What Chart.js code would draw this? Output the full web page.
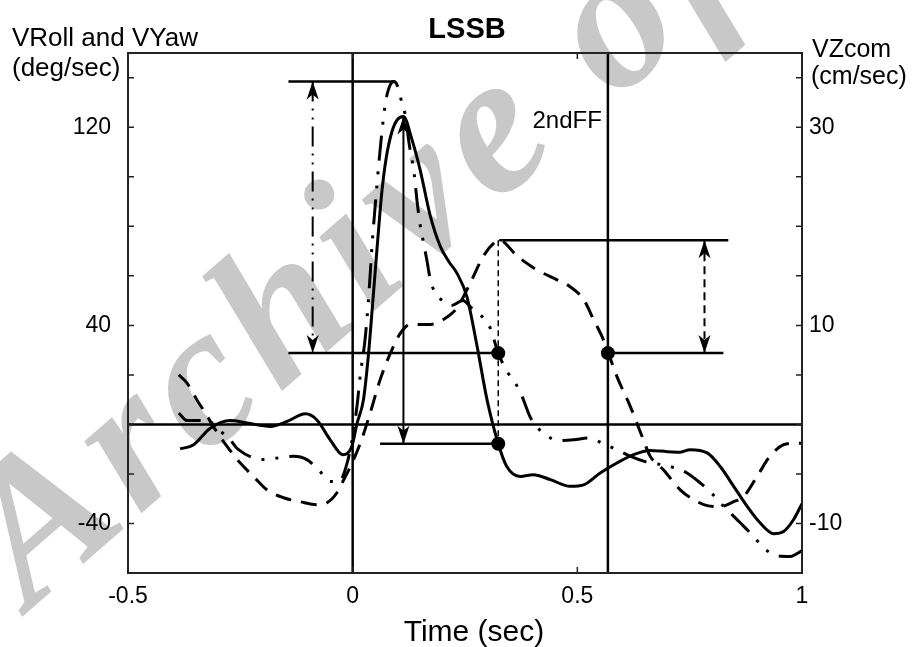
<!DOCTYPE html>
<html>
<head>
<meta charset="utf-8">
<script src="https://cdn.jsdelivr.net/npm/chart.js@4.4.0/dist/chart.umd.min.js"></script>
<style>
  html, body { margin: 0; padding: 0; background: #fff; }
  canvas { display: block; }
</style>
</head>
<body>
<canvas id="lssbChart" width="915" height="647"></canvas>
<script>
// VRoll (solid), deg/sec
const rollTime = [-0.384,-0.354,-0.317,-0.272,-0.235,-0.183,-0.146,-0.105,-0.08,-0.05,-0.022,-0.002,0.01,0.024,0.035,0.045,0.056,0.065,0.075,0.087,0.099,0.113,0.132,0.15,0.173,0.195,0.215,0.232,0.254,0.277,0.299,0.324,0.343,0.373,0.402,0.44,0.484,0.514,0.551,0.588,0.625,0.662,0.70,0.729,0.751,0.789,0.818,0.848,0.878,0.907,0.937,0.959,0.981,1.0];
const rollRate = [-9.9,-8.2,-1.5,1.6,0.6,-0.8,1.2,4.3,1.9,-6.2,-12.2,-8.9,0.6,10,28,50,75,94,108,118,123,124.4,115,102.9,84,71.9,65.5,61.1,51.7,31.5,10,-7.8,-17,-21,-20.3,-22.3,-25,-24.4,-19.6,-15.6,-12.2,-10.5,-11,-11.2,-10.2,-11.5,-17,-25,-33.1,-39.8,-44.1,-43.2,-38.5,-32];

// VYaw (dash-dot-dot), deg/sec
const yawTime = [-0.387,-0.369,-0.324,-0.3,-0.276,-0.254,-0.198,-0.165,-0.132,-0.102,-0.075,-0.05,-0.03,-0.013,0.0,0.01,0.017,0.028,0.037,0.043,0.05,0.058,0.065,0.073,0.082,0.092,0.099,0.108,0.117,0.126,0.137,0.144,0.149,0.157,0.165,0.173,0.184,0.2,0.22,0.245,0.265,0.284,0.306,0.324,0.345,0.362,0.377,0.395,0.41,0.429,0.458,0.492,0.525,0.56,0.588,0.62,0.651,0.707,0.744,0.774,0.8,0.826,0.863,0.892,0.915,0.944,0.974,1.0];
const yawRate = [4.6,1.6,1.6,-2,-5.5,-10.2,-14.2,-13.5,-12.9,-14.2,-18.5,-23,-23,-16,-5,8,20,35,55,72,88,105,118,130,136.5,138.5,137,131,125,113,101,89,82,74,66.5,58.4,53,50,48,50,47,44.3,39,28.8,21,16.7,11.3,3,-1,-4.2,-6.5,-6.2,-5.5,-8,-10.2,-13,-15,-17,-19.6,-23.7,-28,-33.1,-39.8,-45.2,-49.9,-53,-53.3,-51];

// VZcom (dashed), cm/sec
const comTime = [-0.387,-0.369,-0.347,-0.328,-0.306,-0.28,-0.25,-0.221,-0.191,-0.154,-0.117,-0.08,-0.057,-0.035,-0.02,-0.005,0.017,0.039,0.061,0.084,0.106,0.128,0.173,0.202,0.232,0.262,0.291,0.314,0.327,0.366,0.41,0.455,0.484,0.514,0.536,0.558,0.569,0.588,0.618,0.644,0.662,0.692,0.729,0.759,0.789,0.818,0.848,0.87,0.9,0.929,0.959,0.981,1.0];
const comVel = [5.0,4.2,2.5,1.15,-0.5,-2.2,-3.9,-5.25,-6.6,-7.4,-7.8,-8.1,-7.9,-6.9,-5.6,-4.25,-1.9,1.15,4.5,7.2,9.2,10.1,10.1,10.6,11.75,14.3,17,18.3,18.6,17,15.6,14.6,13.9,12.6,10.6,8.55,7.2,4.85,1.8,-1.2,-3.2,-4.6,-6.6,-7.6,-8.2,-8.3,-7.8,-7.3,-5.25,-3.2,-2.05,-1.9,-1.9];

// axis ticks
const timeTicks = [-0.5, 0, 0.5, 1];
const leftTickLabels = [120, 40, -40];
const rightTickLabels = [30, 10, -10];

// event times and reference levels
const onsetTime = 0;
const secondFFTime = 0.568;
const markTime = 0.324;
const yawPeak = 138.5;
const rollPeak = 124.4;
const rollPeakTime = 0.113;
const levelAtMark = 28.8;   // deg/sec
const rollAtMark = -7.8;    // deg/sec
const comPeak = 18.6;       // cm/sec
const comAtFF = 7.2;        // cm/sec

const pairs = (xs, ys) => xs.map((x, i) => ({ x: x, y: ys[i] }));

function seg(points, extra) {
  return Object.assign({
    type: 'scatter', showLine: true, data: points,
    borderColor: '#000', borderWidth: 2.5, pointRadius: 0,
    fill: false, tension: 0, yAxisID: 'y'
  }, extra || {});
}

const watermark = {
  id: 'watermark',
  beforeDraw(chart) {
    const c = chart.ctx;
    c.save();
    c.translate(30, 610);
    c.rotate(-41 * Math.PI / 180);
    c.font = 'italic bold 200px "Liberation Serif", serif';
    c.letterSpacing = '10px';
    c.fillStyle = '#c8c8c8';
    c.fillText('Archive of SID', 0, 0);
    c.restore();
  }
};

const frame = {
  id: 'frame',
  afterDatasetsDraw(chart) {
    const c = chart.ctx;
    const a = chart.chartArea;
    const x = chart.scales.x, y = chart.scales.y;
    c.save();
    // arrow heads on shafts
    chart.data.datasets.forEach((ds, i) => {
      if (!ds.arrow) return;
      const pts = chart.getDatasetMeta(i).data;
      const p0 = pts[0], p1 = pts[pts.length - 1];
      head(c, p1.x, p1.y, p1.x - p0.x, p1.y - p0.y);
      head(c, p0.x, p0.y, p0.x - p1.x, p0.y - p1.y);
    });
    // box
    c.strokeStyle = '#222';
    c.lineWidth = 2;
    c.strokeRect(a.left, a.top, a.right - a.left, a.bottom - a.top);
    // inward ticks
    c.beginPath();
    for (let v = -40; v <= 140; v += 20) {
      const py = y.getPixelForValue(v);
      c.moveTo(a.left, py); c.lineTo(a.left + 6, py);
      c.moveTo(a.right, py); c.lineTo(a.right - 6, py);
    }
    timeTicks.forEach(t => {
      const px = x.getPixelForValue(t);
      c.moveTo(px, a.bottom); c.lineTo(px, a.bottom - 6);
      c.moveTo(px, a.top); c.lineTo(px, a.top + 6);
    });
    c.lineWidth = 1.5;
    c.stroke();
    c.restore();
  },
  afterDraw(chart) {
    const c = chart.ctx;
    const x = chart.scales.x, y = chart.scales.y;
    c.save();
    c.fillStyle = '#000';
    c.textBaseline = 'alphabetic';
    c.font = 'bold 29px "Liberation Sans", Arial, sans-serif';
    c.textAlign = 'center';
    c.fillText('LSSB', 467, 38);
    c.font = '30px "Liberation Sans", Arial, sans-serif';
    c.fillText('Time (sec)', 474, 641);
    c.textAlign = 'left';
    c.font = '26px "Liberation Sans", Arial, sans-serif';
    c.fillText('VRoll and VYaw', 12, 46);
    c.fillText('(deg/sec)', 12, 76);
    c.font = '25px "Liberation Sans", Arial, sans-serif';
    c.fillText('VZcom', 812, 57);
    c.fillText('(cm/sec)', 811, 84);
    c.textAlign = 'right';
    c.font = '24px "Liberation Sans", Arial, sans-serif';
    c.fillText('2ndFF', x.getPixelForValue(secondFFTime) - 6, y.getPixelForValue(120) + 1);
    c.restore();
  }
};

function head(c, tx, ty, dx, dy) {
  const len = Math.hypot(dx, dy) || 1;
  const ux = dx / len, uy = dy / len;
  const nx = -uy, ny = ux;
  const L = 18, W = 6, N = 5;
  c.beginPath();
  c.moveTo(tx, ty);
  c.lineTo(tx - ux * L + nx * W, ty - uy * L + ny * W);
  c.lineTo(tx - ux * (L - N), ty - uy * (L - N));
  c.lineTo(tx - ux * L - nx * W, ty - uy * L - ny * W);
  c.closePath();
  c.fillStyle = '#000';
  c.fill();
}

const yMin = -60, yMax = 150;

const datasets = [
  // curves
  { type: 'scatter', label: 'VRoll', showLine: true, data: pairs(rollTime, rollRate),
    borderColor: '#000', borderWidth: 3, pointRadius: 0, cubicInterpolationMode: 'monotone', yAxisID: 'y' },
  { type: 'scatter', label: 'VYaw', showLine: true, data: pairs(yawTime, yawRate),
    borderColor: '#000', borderWidth: 3, pointRadius: 0, cubicInterpolationMode: 'monotone',
    borderDash: [25, 11, 3, 11, 3, 11], yAxisID: 'y' },
  { type: 'scatter', label: 'VZcom', showLine: true, data: pairs(comTime, comVel),
    borderColor: '#000', borderWidth: 3, pointRadius: 0, cubicInterpolationMode: 'monotone',
    borderDash: [16, 10], yAxisID: 'y2' },
  // event lines
  seg([{ x: onsetTime, y: yMin }, { x: onsetTime, y: yMax }]),
  seg([{ x: secondFFTime, y: yMin }, { x: secondFFTime, y: yMax }]),
  seg([{ x: -0.5, y: 0 }, { x: 1, y: 0 }]),
  // reference levels
  seg([{ x: -0.143, y: yawPeak }, { x: 0.092, y: yawPeak }]),
  seg([{ x: -0.143, y: levelAtMark }, { x: markTime, y: levelAtMark }]),
  seg([{ x: 0.061, y: rollAtMark }, { x: markTime, y: rollAtMark }]),
  seg([{ x: 0.326, y: comPeak }, { x: 0.836, y: comPeak }], { yAxisID: 'y2' }),
  seg([{ x: secondFFTime, y: comAtFF }, { x: 0.825, y: comAtFF }], { yAxisID: 'y2' }),
  seg([{ x: markTime, y: comPeak }, { x: markTime, y: -7 / 4 }], { yAxisID: 'y2', borderWidth: 1.5, borderDash: [6, 4] }),
  // arrows
  seg([{ x: -0.089, y: yawPeak }, { x: -0.089, y: levelAtMark }], { arrow: true, borderWidth: 2, borderDash: [20, 7, 2, 7, 2, 7] }),
  seg([{ x: rollPeakTime, y: rollPeak }, { x: rollPeakTime, y: rollAtMark }], { arrow: true, borderWidth: 2 }),
  seg([{ x: 0.783, y: comPeak }, { x: 0.783, y: comAtFF }], { arrow: true, yAxisID: 'y2', borderWidth: 2, borderDash: [8, 5] }),
  // marked points
  { type: 'scatter', data: [{ x: markTime, y: levelAtMark }, { x: markTime, y: rollAtMark }],
    pointRadius: 7, pointBackgroundColor: '#000', pointBorderWidth: 0, yAxisID: 'y' },
  { type: 'scatter', data: [{ x: secondFFTime, y: comAtFF }],
    pointRadius: 7, pointBackgroundColor: '#000', pointBorderWidth: 0, yAxisID: 'y2' }
];

Chart.defaults.font.family = '"Liberation Sans", Arial, sans-serif';
Chart.defaults.color = '#000';

new Chart(document.getElementById('lssbChart').getContext('2d'), {
  type: 'scatter',
  data: { datasets: datasets },
  options: {
    responsive: false,
    animation: false,
    events: [],
    layout: { padding: { top: 53, left: 0, right: 0, bottom: 0 } },
    plugins: { legend: { display: false }, tooltip: { enabled: false } },
    scales: {
      x: {
        type: 'linear', position: 'bottom', min: -0.5, max: 1,
        grid: { display: false, drawTicks: false }, border: { display: false },
        afterFit: s => { s.height = 74; },
        ticks: { stepSize: 0.5, padding: 10, font: { size: 23 }, autoSkip: false,
          callback: v => timeTicks.includes(v) ? String(v) : '' }
      },
      y: {
        type: 'linear', position: 'left', min: yMin, max: yMax,
        grid: { display: false, drawTicks: false }, border: { display: false },
        afterFit: s => { s.width = 128; },
        ticks: { stepSize: 20, padding: 17, font: { size: 23 }, autoSkip: false,
          callback: v => leftTickLabels.includes(v) ? String(v) : '' }
      },
      y2: {
        type: 'linear', position: 'right', min: yMin / 4, max: yMax / 4,
        grid: { display: false, drawTicks: false }, border: { display: false },
        afterFit: s => { s.width = 113; },
        ticks: { stepSize: 5, padding: 7, font: { size: 23 }, autoSkip: false,
          callback: v => rightTickLabels.includes(v) ? String(v) : '' }
      }
    }
  },
  plugins: [watermark, frame]
});
</script>
</body>
</html>
